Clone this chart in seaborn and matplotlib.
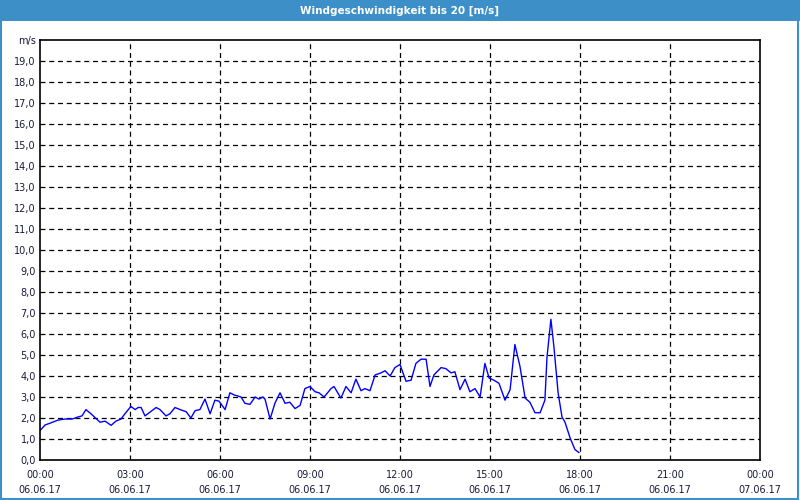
import matplotlib
matplotlib.use("Agg")
import matplotlib.pyplot as plt
import seaborn as sns
import pandas as pd
from matplotlib.patches import Rectangle

title = "Windgeschwindigkeit bis 20 [m/s]"
unit = "m/s"

# time in hours since 06.06.17 00:00, wind speed in m/s
hours = [0.00, 0.17, 0.33, 0.60, 0.83, 1.07, 1.27, 1.40, 1.53, 1.70, 2.00, 2.17, 2.37,
         2.53, 2.70, 2.83, 3.03, 3.17, 3.27,
         3.37, 3.50, 3.87, 4.00, 4.20, 4.33, 4.50, 4.67, 4.87, 5.03, 5.17, 5.33, 5.50,
         5.67, 5.83, 5.97, 6.17, 6.33, 6.47,
         6.70, 6.83, 7.00, 7.17, 7.30, 7.43, 7.50, 7.67, 7.83, 8.00, 8.17, 8.33, 8.50,
         8.67, 8.83, 9.00, 9.17, 9.30, 9.47, 9.70,
         9.80, 10.03, 10.20, 10.37, 10.53, 10.70, 10.83, 11.00, 11.17, 11.37, 11.50,
         11.67, 11.83, 12.00, 12.20, 12.37, 12.53, 12.70, 12.87,
         13.00, 13.13, 13.37, 13.53, 13.70, 13.83, 14.00, 14.17, 14.33, 14.50, 14.67,
         14.83, 14.97, 15.13, 15.30, 15.50, 15.67,
         15.83, 16.00, 16.17, 16.33, 16.50, 16.67, 16.83, 16.90, 17.03, 17.13, 17.27,
         17.40, 17.50, 17.67, 17.83, 17.97]
speed = [1.40, 1.67, 1.75, 1.90, 1.95, 1.95, 2.05, 2.10, 2.40, 2.20, 1.80, 1.85, 1.65,
         1.85, 1.95, 2.20, 2.55, 2.40, 2.50,
         2.50, 2.10, 2.50, 2.40, 2.10, 2.20, 2.50, 2.40, 2.30, 2.00, 2.35, 2.40, 2.90,
         2.20, 2.85, 2.80, 2.40, 3.20, 3.10,
         3.00, 2.70, 2.65, 3.00, 2.90, 3.00, 2.90, 1.95, 2.70, 3.20, 2.70, 2.75, 2.45,
         2.60, 3.40, 3.50, 3.25, 3.20, 3.00, 3.40,
         3.50, 2.95, 3.50, 3.20, 3.85, 3.30, 3.40, 3.30, 4.05, 4.15, 4.25,
         4.00, 4.40, 4.55, 3.75, 3.80, 4.60, 4.80, 4.80,
         3.50, 4.05, 4.40, 4.35, 4.15, 4.20, 3.35, 3.85, 3.25, 3.40, 3.00,
         4.60, 3.90, 3.80, 3.65, 2.85, 3.35,
         5.50, 4.45, 2.95, 2.75, 2.25, 2.25, 2.85, 4.90, 6.70, 5.40, 3.20,
         2.05, 1.80, 1.05, 0.50, 0.35]

xtick_times = ["00:00", "03:00", "06:00", "09:00", "12:00", "15:00", "18:00", "21:00", "00:00"]
xtick_dates = ["06.06.17"] * 8 + ["07.06.17"]

df = pd.DataFrame({"h": hours, "v": speed})

sns.set_style("white")
plt.rcParams["font.family"] = ["DejaVu Sans"]

fig = plt.figure(figsize=(8, 5), dpi=100, facecolor="white")
ax = fig.add_axes([40 / 800, 40 / 500, 720 / 800, 420 / 500])

sns.lineplot(data=df, x="h", y="v", ax=ax, color="#0000ff", linewidth=1.0)

ax.set_xlim(0, 24)
ax.set_ylim(0, 20)
ax.set_xlabel("")
ax.set_ylabel("")

ax.set_xticks(range(0, 25, 3))
ax.set_xticks(range(0, 25, 1), minor=True)
ax.set_xticklabels([f"{t}\n{d}" for t, d in zip(xtick_times, xtick_dates)],
                   fontsize=7, color="#1a1a3a", linespacing=1.6)
yt = list(range(0, 21))
ax.set_yticks(yt)
ax.set_yticklabels([f"{v},0" for v in yt[:-1]] + [unit], fontsize=7, color="#1a1a3a")

ax.tick_params(axis="x", which="major", direction="out", length=4, width=1, color="black", pad=3)
ax.tick_params(axis="x", which="minor", direction="out", length=4, width=1, color="black")
ax.tick_params(axis="y", length=0, pad=3)

ax.grid(False)
for h in range(3, 24, 3):
    ax.axvline(h, color="black", linestyle=(0, (4, 3)), linewidth=0.9, zorder=0)
for v in range(1, 20):
    ax.axhline(v, color="black", linestyle=(0, (4, 3)), linewidth=0.9, zorder=0)

for s in ax.spines.values():
    s.set_visible(True)
    s.set_color("black")
    s.set_linewidth(1.2)

# title bar
fig.patches.append(Rectangle((0, 479 / 500), 1, 21 / 500, transform=fig.transFigure,
                             facecolor="#3d8fc7", edgecolor="none", zorder=0))
fig.text(0.5, 489.5 / 500, title, ha="center", va="center", color="white",
         fontsize=7.5, fontweight="bold")
# outer frame
fig.patches.append(Rectangle((0.001, 0.002), 0.997, 0.996, transform=fig.transFigure,
                             facecolor="none", edgecolor="#3d8fc7", linewidth=1.5, zorder=1))

fig.savefig("out.png", dpi=100, facecolor="white")
